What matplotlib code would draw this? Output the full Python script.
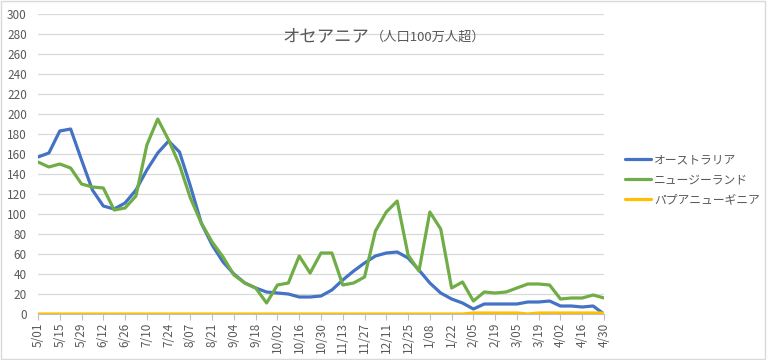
import matplotlib
matplotlib.use("Agg")
import matplotlib.pyplot as plt
from matplotlib.patches import Rectangle

plt.rcParams['font.family'] = ['Noto Sans CJK JP', 'DejaVu Sans']

# weekly data, 5/01 .. 4/30
weeks = ["5/01", "5/08", "5/15", "5/22", "5/29", "6/05", "6/12", "6/19", "6/26", "7/03",
         "7/10", "7/17", "7/24", "7/31", "8/07", "8/14", "8/21", "8/28", "9/04", "9/11",
         "9/18", "9/25", "10/02", "10/09", "10/16", "10/23", "10/30", "11/06", "11/13", "11/20",
         "11/27", "12/04", "12/11", "12/18", "12/25", "1/01", "1/08", "1/15", "1/22", "1/29",
         "2/05", "2/12", "2/19", "2/26", "3/05", "3/12", "3/19", "3/26", "4/02", "4/09",
         "4/16", "4/23", "4/30"]

australia = [157, 161, 183, 185, 154, 124, 108, 105, 111, 124,
             144, 161, 173, 162, 128, 91, 69, 52, 40, 31,
             26, 22, 21, 20, 17, 17, 18, 24, 34, 43,
             51, 58, 61, 62, 56, 44, 31, 21, 15, 11,
             5, 10, 10, 10, 10, 12, 12, 13, 8, 8,
             7, 8, 0]

new_zealand = [152, 147, 150, 146, 130, 127, 126, 104, 106, 118,
               169, 195, 174, 149, 116, 91, 72, 57, 39, 31,
               26, 11, 29, 31, 58, 41, 61, 61, 29, 31,
               37, 83, 102, 113, 59, 43, 102, 85, 26, 32,
               13, 22, 21, 22, 26, 30, 30, 29, 15, 16,
               16, 19, 16]

png = [0] * 40 + [1, 1, 1, 1, 1, 0, 1, 1, 1, 1, 1, 1, 1]

series = [("オーストラリア", australia, "#4472C4"),
          ("ニュージーランド", new_zealand, "#70AD47"),
          ("パプアニューギニア", png, "#FFC000")]

fig = plt.figure(figsize=(7.67, 3.6), dpi=100)
ax = fig.add_axes([38 / 767, 1 - 314 / 360, (604 - 38) / 767, 300 / 360])

x = list(range(len(weeks)))
for name, vals, col in series:
    ax.plot(x, vals, color=col, lw=2.3, label=name, solid_capstyle='round')

ax.set_xlim(0, len(weeks) - 1)
ax.set_ylim(0, 300)
ax.set_yticks(range(0, 301, 20))
ax.set_xticks(x[::2])
ax.set_xticklabels(weeks[::2], rotation=90)
ax.grid(axis='y', color='#D9D9D9', lw=0.9)
ax.set_axisbelow(True)
for s in ['top', 'right', 'left']:
    ax.spines[s].set_visible(False)
ax.spines['bottom'].set_color('#BFBFBF')
ax.tick_params(axis='y', length=0, labelsize=8.5, labelcolor='#595959', pad=8)
ax.tick_params(axis='x', length=4, color='#BFBFBF', labelsize=8.5, labelcolor='#595959', pad=2)

leg = ax.legend(loc='center left', bbox_to_anchor=(620 / 767, 180 / 360),
                bbox_transform=fig.transFigure, frameon=False, fontsize=8.5,
                handlelength=2.2, handletextpad=0.3, labelspacing=0.6, borderaxespad=0)
for t in leg.get_texts():
    t.set_color('#595959')

fig.text(283 / 767, 1 - 36 / 360, "オセアニア", fontsize=12.5, color='#595959', va='center')
fig.text(371 / 767, 1 - 37 / 360, "（人口100万人超）", fontsize=9.5, color='#595959', va='center')

fig.patches.append(Rectangle((0.001, 0.002), 0.997, 0.995, transform=fig.transFigure,
                             fill=False, edgecolor='#D9D9D9', lw=1))

fig.savefig("out.png", dpi=100)
